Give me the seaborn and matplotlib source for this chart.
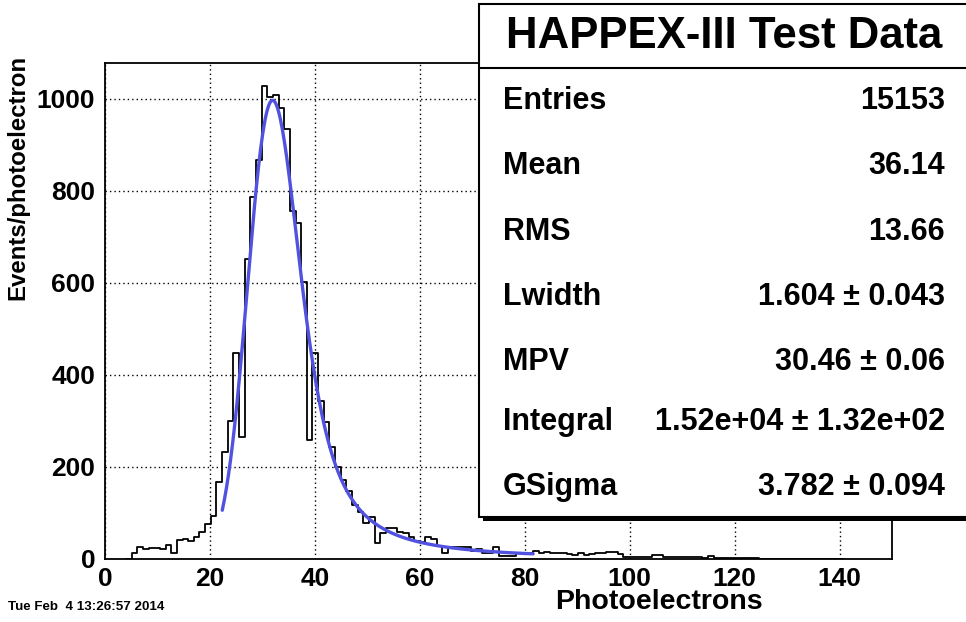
import numpy as np
import pandas as pd
import matplotlib
matplotlib.use("Agg")
import matplotlib.pyplot as plt
import seaborn as sns
from matplotlib.patches import Rectangle
from matplotlib.lines import Line2D
from matplotlib.ticker import MultipleLocator

# ---------------------------------------------------------------- data
# photoelectron spectrum: fixed-width bins starting at bin_first_edge
bin_first_edge = 5.08
bin_width = 1.077
counts = [
    0, 12, 25, 22, 24, 23, 22, 31, 14, 41, 43, 40, 47, 59, 76, 93,
    168, 232, 300, 448, 265, 652, 786, 868, 1028, 1005, 1009, 980, 934,
    756, 731, 601, 259, 448, 343, 298, 243, 199, 172, 147, 117, 103, 79,
    92, 34, 56, 68, 68, 58, 56, 48, 40, 36, 48, 43, 28, 12, 27, 27, 25,
    25, 18, 21, 12, 12, 25, 6, 6, 6, 14, 12, 12, 18, 14, 16, 14, 14, 14,
    11, 9, 14, 9, 11, 12, 12, 16, 16, 10, 5, 5, 5, 5, 5, 8, 8, 4, 4, 4,
    4, 4, 4, 4, 2, 7, 2, 2, 2, 2, 2, 2, 2, 2, 1, 1, 0, 1, 1, 0, 1, 0, 0,
    1, 0, 0, 0, 0, 0,
]

# Landau (x) Gaussian fit results
fit_lwidth = 1.604
fit_mpv = 30.46
fit_integral = 1.52e4
fit_gsigma = 3.782
fit_lo, fit_hi = 22.35, 81.6

stats_title = "HAPPEX-III Test Data"
stats_labels = ["Entries", "Mean", "RMS", "Lwidth", "MPV", "Integral", "GSigma"]
stats_values = ["15153", "36.14", "13.66", "1.604 \u00b1 0.043",
                "30.46 \u00b1 0.06", "1.52e+04 \u00b1 1.32e+02",
                "3.782 \u00b1 0.094"]

x_title = "Photoelectrons"
y_title = "Events/photoelectron"
date_text = "Tue Feb  4 13:26:57 2014"


# ---------------------------------------------------------------- fit curve
def landau_density(lam):
    """Standard Landau density (Landau 1944 form)."""
    lam = np.asarray(lam, float)
    out = np.zeros_like(lam)
    t = np.concatenate([np.geomspace(1e-7, 0.5, 1500),
                        np.linspace(0.5, 60, 12000)[1:]])
    hi = np.where(lam >= -1)[0]
    if hi.size:
        for chunk in np.array_split(hi, max(1, hi.size // 100)):
            L = lam[chunk][:, None]
            g = np.exp(-t * np.log(t) - L * t) * np.sin(np.pi * t)
            out[chunk] = np.trapezoid(g, t, axis=1) / np.pi
    # left side: Bromwich integral along a line through the saddle point
    for k in np.where((lam < -1) & (lam > -5.5))[0]:
        c = np.exp(-1 - lam[k])
        yy = np.linspace(0, 12 * np.sqrt(c) + 40, 6000)
        s = c + 1j * yy
        f = np.exp(s * np.log(s) + lam[k] * s)
        out[k] = np.trapezoid(f.real, yy) / np.pi
    return out


def langaus(x, lwidth, mpv, integral, gsigma):
    mpc = mpv + 0.22278298 * lwidth
    step = 0.02
    xx = np.arange(x.min() - 5 * gsigma, x.max() + 5 * gsigma, step)
    lan = landau_density((xx - mpc) / lwidth) / lwidth
    g = np.exp(-0.5 * ((x[:, None] - xx[None, :]) / gsigma) ** 2)
    g /= gsigma * np.sqrt(2 * np.pi)
    return integral * (g * lan[None, :]).sum(axis=1) * step


# step outline: one point per bin edge, last bin repeated to close it
edges = bin_first_edge - bin_width + bin_width * np.arange(len(counts) + 1)
hist_df = pd.DataFrame({"x": edges, "n": list(counts) + [counts[-1]]})

fit_x = np.linspace(fit_lo, fit_hi, 300)
fit_df = pd.DataFrame({"x": fit_x,
                       "y": langaus(fit_x, fit_lwidth, fit_mpv,
                                    fit_integral, fit_gsigma)})

# ---------------------------------------------------------------- figure
sns.set_theme(style="white")
plt.rcParams["font.family"] = ["Liberation Sans", "DejaVu Sans"]
plt.rcParams["font.weight"] = "bold"
for key in ("text.color", "axes.labelcolor", "xtick.color", "ytick.color",
            "axes.edgecolor"):
    plt.rcParams[key] = "black"

W, H = 966, 622
fig = plt.figure(figsize=(W / 100, H / 100), dpi=100)
fig.patch.set_facecolor("white")


def fx(px):
    return px / W


def fy(py):
    return 1 - py / H


ax = fig.add_axes([fx(105), fy(559), (892 - 105) / W, (559 - 63) / H])
ax.set_facecolor("white")

sns.lineplot(data=hist_df, x="x", y="n", estimator=None, sort=False,
             drawstyle="steps-post", color="black", linewidth=1.3, ax=ax)
sns.lineplot(data=fit_df, x="x", y="y", estimator=None, color="#5252e0",
             linewidth=2.4, ax=ax)

ax.set_xlim(0, 150)
ax.set_ylim(0, 1078)
ax.set_xlabel("")
ax.set_ylabel("")

ax.xaxis.set_major_locator(MultipleLocator(20))
ax.xaxis.set_minor_locator(MultipleLocator(5))
ax.yaxis.set_major_locator(MultipleLocator(200))
ax.yaxis.set_minor_locator(MultipleLocator(50))
ax.grid(True, which="major", color="black", linestyle=(0, (1, 2.2)),
        linewidth=1.0)
ax.set_axisbelow(True)

for sp in ax.spines.values():
    sp.set_color("black")
    sp.set_linewidth(1.3)

ax.tick_params(axis="both", which="both", direction="in", color="black",
               labelcolor="black", width=1.0, top=False, right=False)
ax.tick_params(axis="y", which="major", length=16.5, pad=7, labelsize=19)
ax.tick_params(axis="y", which="minor", length=6.5)
ax.tick_params(axis="x", which="major", length=9.0, pad=6, labelsize=19)
ax.tick_params(axis="x", which="minor", length=4.5)
for lab in ax.get_xticklabels() + ax.get_yticklabels():
    lab.set_fontweight("bold")

# axis titles and date stamp
fig.text(fx(763), fy(602), x_title, ha="right", va="center",
         fontsize=20.5, fontweight="bold", color="black")
fig.text(fx(18), fy(55), y_title, ha="center", va="top", rotation=90,
         fontsize=17.3, fontweight="bold", color="black")
fig.text(fx(8), fy(607), date_text, ha="left", va="center",
         fontsize=9.6, fontweight="bold", color="black")

# statistics box with drop shadow
box_l, box_t, box_r, box_b = 479, 4, 972, 517
fig.patches.append(Rectangle((fx(box_l + 4), fy(box_b + 4)),
                             (box_r - box_l) / W, (box_b - box_t) / H,
                             transform=fig.transFigure, facecolor="black",
                             edgecolor="none", zorder=5))
fig.patches.append(Rectangle((fx(box_l), fy(box_b)),
                             (box_r - box_l) / W, (box_b - box_t) / H,
                             transform=fig.transFigure, facecolor="white",
                             edgecolor="black", linewidth=1.5, zorder=6))
fig.lines.append(Line2D([fx(box_l), fx(box_r)], [fy(68), fy(68)],
                        transform=fig.transFigure, color="black",
                        linewidth=1.5, zorder=7))
fig.text(fx(724), fy(36), stats_title, ha="center", va="center",
         fontsize=31.5, fontweight="bold", color="black", zorder=8)

row_y = [101, 166, 232, 297, 362, 422, 487]
for yy, lab, val in zip(row_y, stats_labels, stats_values):
    fig.text(fx(503), fy(yy), lab, ha="left", va="center", fontsize=22,
             fontweight="bold", color="black", zorder=8)
    fig.text(fx(945), fy(yy), val, ha="right", va="center", fontsize=22,
             fontweight="bold", color="black", zorder=8)

fig.savefig("out.png", dpi=100)
